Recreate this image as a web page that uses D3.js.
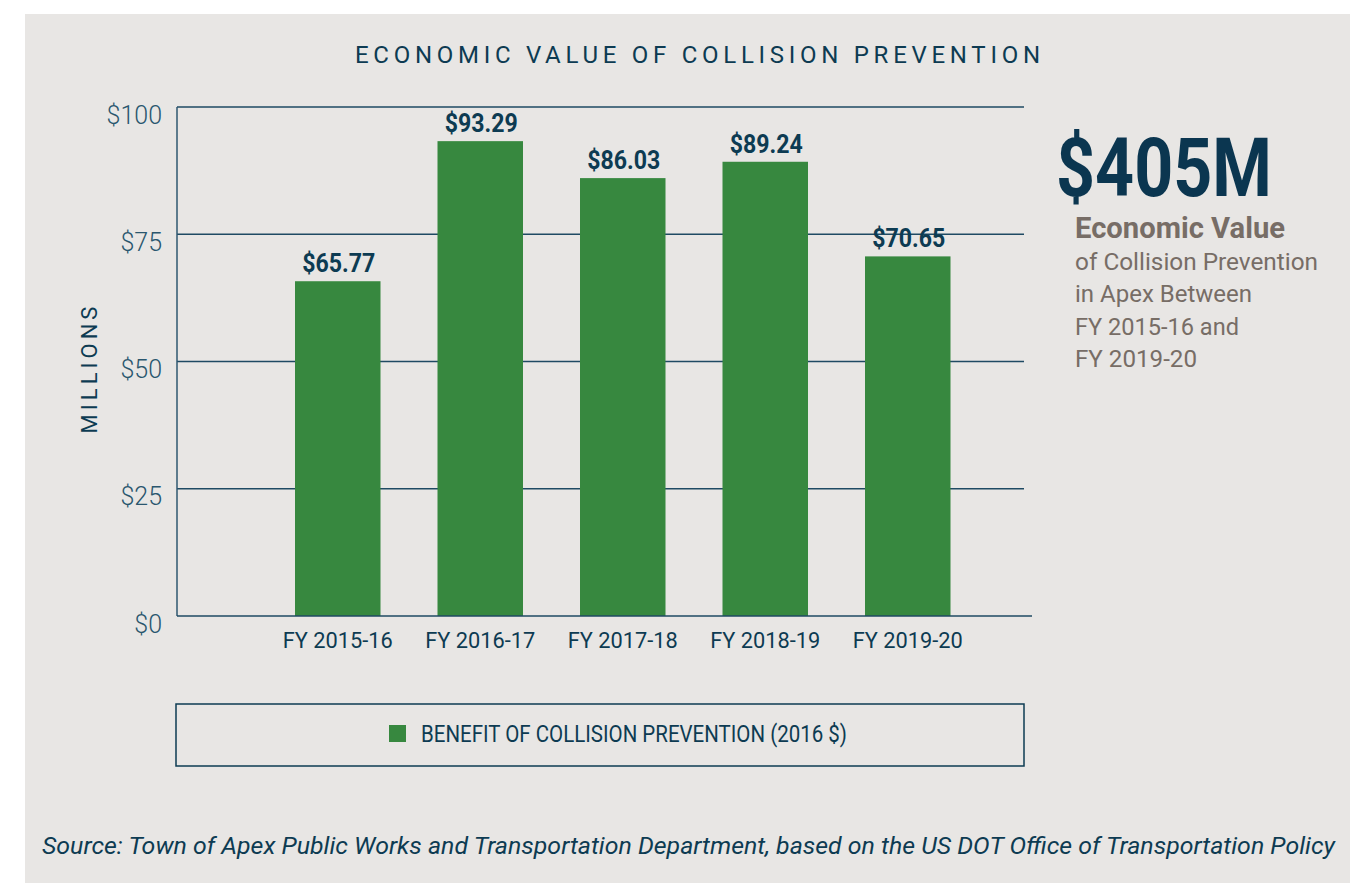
<!DOCTYPE html>
<html>
<head>
<meta charset="utf-8">
<script src="https://cdn.jsdelivr.net/npm/d3@7"></script>
<style>
  html, body { margin: 0; padding: 0; background: #ffffff; }
  svg { display: block; font-family: Roboto, "Open Sans", sans-serif; }
</style>
</head>
<body>
<svg id="chart" width="1350" height="883"></svg>
<script>
// ---- data ----
const categories = ["FY 2015-16", "FY 2016-17", "FY 2017-18", "FY 2018-19", "FY 2019-20"];
const values = [65.77, 93.29, 86.03, 89.24, 70.65];
const valueLabels = ["$65.77", "$93.29", "$86.03", "$89.24", "$70.65"];
const yTicks = [0, 25, 50, 75, 100];
const yTickLabels = ["$0", "$25", "$50", "$75", "$100"];
const title = "ECONOMIC VALUE OF COLLISION PREVENTION";
const yAxisTitle = "MILLIONS";
const legendLabel = "BENEFIT OF COLLISION PREVENTION (2016 $)";
const bigNumber = "$405M";
const sideHeading = "Economic Value";
const sideLines = ["of Collision Prevention", "in Apex Between", "FY 2015-16 and", "FY 2019-20"];
const sourceText = "Source: Town of Apex Public Works and Transportation Department, based on the US DOT Office of Transportation Policy";

// ---- styles ----
const NAVY = "#0d3b52";
const GRID = "#1f4a63";
const GREEN = "#37883f";
const TAUPE = "#776d66";
const PANEL = "#e8e6e4";

const svg = d3.select("#chart");

svg.append("rect").attr("x", 25).attr("y", 14).attr("width", 1325).attr("height", 869).attr("fill", PANEL);

// helper: condense text to a given width
function fitWidth(sel, w, adjust) {
  sel.attr("textLength", w).attr("lengthAdjust", adjust || "spacingAndGlyphs");
}

// title
svg.append("text")
  .attr("x", 355).attr("y", 63)
  .attr("font-size", 24).attr("fill", NAVY)
  .text(title)
  .call(fitWidth, 685, "spacing");

// scales
const y = d3.scaleLinear().domain([0, 100]).range([616, 107]);
const x = d3.scaleBand().domain(categories).range([266.5, 979]).paddingInner(0.4).paddingOuter(0.2);

const plotLeft = 177, gridRight = 1024, axisRight = 1032;

// gridlines (non-zero)
svg.append("g").selectAll("line").data(yTicks.filter(d => d > 0)).join("line")
  .attr("x1", plotLeft).attr("x2", gridRight)
  .attr("y1", d => y(d)).attr("y2", d => y(d))
  .attr("stroke", GRID).attr("stroke-width", 1.5);

// left axis line
svg.append("line").attr("x1", plotLeft).attr("x2", plotLeft)
  .attr("y1", y(100)).attr("y2", y(0))
  .attr("stroke", "#2f5770").attr("stroke-width", 1.5);

// y tick labels
svg.append("g").selectAll("text").data(yTicks).join("text")
  .attr("x", 162).attr("y", d => y(d) + 16.5)
  .attr("text-anchor", "end")
  .attr("font-size", 25).attr("font-weight", 300).attr("fill", "#2a566e")
  .text((d, i) => yTickLabels[i]);

// y axis title
svg.append("text")
  .attr("transform", "translate(97,368) rotate(-90)")
  .attr("text-anchor", "middle")
  .attr("font-size", 22).attr("fill", NAVY)
  .attr("letter-spacing", 4)
  .text(yAxisTitle);

// bars
svg.append("g").selectAll("rect").data(values).join("rect")
  .attr("x", (d, i) => x(categories[i]))
  .attr("width", x.bandwidth())
  .attr("y", d => y(d))
  .attr("height", d => y(0) - y(d))
  .attr("fill", GREEN);

// bottom axis line
svg.append("line").attr("x1", plotLeft).attr("x2", axisRight)
  .attr("y1", y(0)).attr("y2", y(0))
  .attr("stroke", GRID).attr("stroke-width", 1.5);

// value labels
svg.append("g").selectAll("text").data(values).join("text")
  .attr("x", (d, i) => x(categories[i]) + x.bandwidth() / 2 + 1)
  .attr("y", d => y(d) - 9)
  .attr("text-anchor", "middle")
  .attr("font-size", 25).attr("font-weight", 700).attr("fill", NAVY)
  .text((d, i) => valueLabels[i])
  .call(fitWidth, 73);

// x labels
svg.append("g").selectAll("text").data(categories).join("text")
  .attr("x", d => x(d) + x.bandwidth() / 2)
  .attr("y", 648)
  .attr("text-anchor", "middle")
  .attr("font-size", 22).attr("font-weight", 400).attr("fill", NAVY)
  .text(d => d)
  .call(fitWidth, 110);

// legend
svg.append("rect").attr("x", 176).attr("y", 704).attr("width", 848).attr("height", 62)
  .attr("fill", "none").attr("stroke", NAVY).attr("stroke-width", 1.5);
svg.append("rect").attr("x", 389).attr("y", 725).attr("width", 17).attr("height", 17).attr("fill", GREEN);
svg.append("text").attr("x", 421).attr("y", 742)
  .attr("font-size", 23).attr("fill", NAVY)
  .text(legendLabel)
  .call(fitWidth, 426);

// side text
svg.append("text").attr("x", 1056).attr("y", 196)
  .attr("font-size", 81).attr("font-weight", 700).attr("fill", "#0b3650")
  .text(bigNumber)
  .call(fitWidth, 216);
svg.append("text").attr("x", 1075).attr("y", 238)
  .attr("font-size", 30).attr("font-weight", 700).attr("fill", TAUPE)
  .text(sideHeading)
  .call(fitWidth, 210);
const sideWidths = [243, 177, 164, 122];
svg.append("g").selectAll("text").data(sideLines).join("text")
  .attr("x", 1075).attr("y", (d, i) => 270 + i * 32.3)
  .attr("font-size", 23).attr("font-weight", 400).attr("fill", TAUPE)
  .text(d => d)
  .each(function (d, i) { d3.select(this).call(fitWidth, sideWidths[i]); });

// source
svg.append("text").attr("x", 42).attr("y", 854)
  .attr("font-size", 23).attr("font-style", "italic").attr("fill", NAVY)
  .text(sourceText)
  .call(fitWidth, 1293);
</script>
</body>
</html>
